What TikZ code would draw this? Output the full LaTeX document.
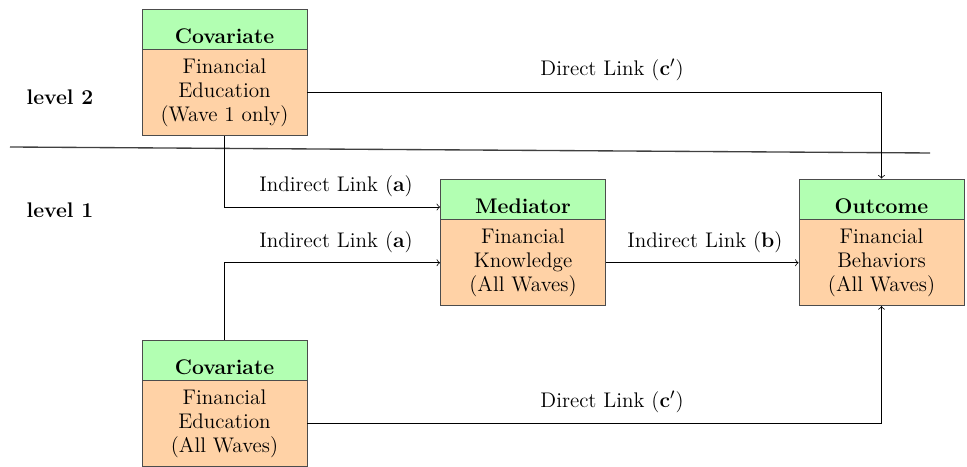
\documentclass[tikz,border=0pt]{standalone}
\usetikzlibrary{positioning}
\begin{document}
\begin{tikzpicture}[x=0.52pt,y=-0.52pt,
        txt/.style={font=\fontsize{11}{12.7}\selectfont},
        bold/.style={font=\fontsize{11}{12.7}\selectfont\bfseries},
        head/.style={bold, draw=black!70, fill=green!30, minimum width=85.8pt, minimum height=20.8pt,
            text height=15.7pt, text depth=1.1pt, inner ysep=2pt},
        body/.style={txt, draw=black!70, fill=orange!35, minimum width=85.8pt, minimum height=44.7pt,
            align=center, inner sep=0pt},
        link/.style={->}]
            \useasboundingbox (0,0) rectangle (967,467);
            % level divider
            \draw [line width=0.7pt, black!75] (10,147) -- (930,153);
            \node [bold] (lvtwo) at (60,97) {level 2};
            \node [bold] (lvone) at (60,210) {level 1};
            % boxes
            \node [head] (covtwoh) at (224.5,29) {Covariate};
                \node [body, below=0pt of covtwoh] (covtwo) {Financial\\Education\\(Wave 1 only)};
            \node [head] (medh) at (523,199) {Mediator};
                \node [body, below=0pt of medh] (med) {Financial\\Knowledge\\(All Waves)};
            \node [head] (outh) at (881.5,199) {Outcome};
                \node [body, below=0pt of outh] (out) {Financial\\Behaviors\\(All Waves)};
            \node [head] (covoneh) at (224.5,360) {Covariate};
                \node [body, below=0pt of covoneh] (covone) {Financial\\Education\\(All Waves)};
            % links
            \draw [link] (covtwo.east) -| (outh.north);
                \node [txt] (dctwo) at (612,70) {Direct Link (\textbf{c}$'$)};
            \draw [link] (covtwo.south) |- ([yshift=-4.2pt]medh.west);
                \node [txt] (iatwo) at (336,186) {Indirect Link (\textbf{a})};
            \draw [link] (covoneh.north) |- (med.west);
                \node [txt] (iaone) at (336,242) {Indirect Link (\textbf{a})};
            \draw [link] (med.east) -- (out.west);
                \node [txt] (ib) at (705,242) {Indirect Link (\textbf{b})};
            \draw [link] (covone.east) -| (out.south);
                \node [txt] (dcone) at (612,402) {Direct Link (\textbf{c}$'$)};
        \end{tikzpicture}
\end{document}
